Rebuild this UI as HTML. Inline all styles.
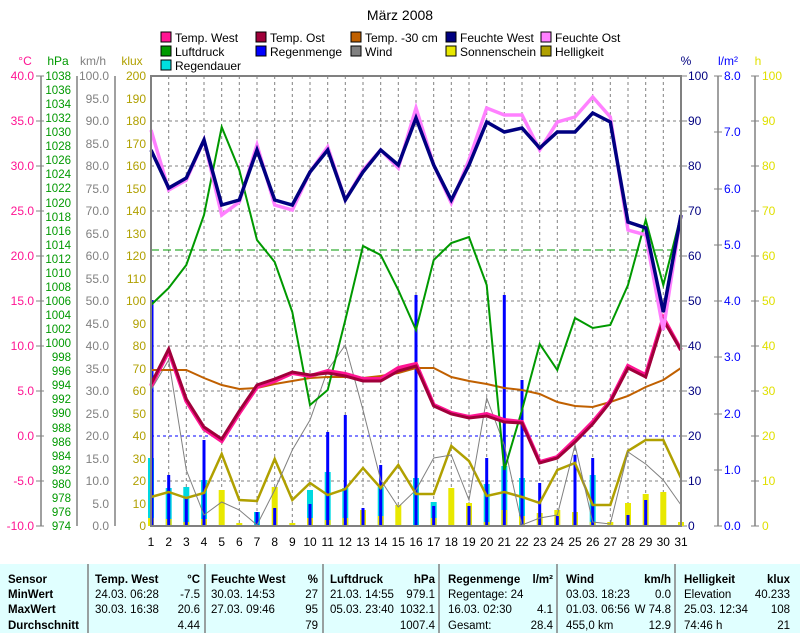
<!DOCTYPE html><html><head><meta charset="utf-8"><style>
body{margin:0;background:#fff;width:800px;height:633px;overflow:hidden}
svg{font-family:"Liberation Sans",sans-serif;font-size:12px}
.b{font-weight:bold}
</style></head><body>
<svg width="800" height="633" xmlns="http://www.w3.org/2000/svg">
<text x="400" y="20" font-size="14" text-anchor="middle">März 2008</text>
<!-- legend -->
<g font-size="12">
<rect x="161" y="32" width="10" height="10" fill="#ff1493" stroke="#000"/><text x="175" y="42">Temp. West</text>
<rect x="256" y="32" width="10" height="10" fill="#a0003a" stroke="#000"/><text x="270" y="42">Temp. Ost</text>
<rect x="351" y="32" width="10" height="10" fill="#c06000" stroke="#000"/><text x="365" y="42">Temp. -30 cm</text>
<rect x="446" y="32" width="10" height="10" fill="#000080" stroke="#000"/><text x="460" y="42">Feuchte West</text>
<rect x="541" y="32" width="10" height="10" fill="#ff80ff" stroke="#000"/><text x="555" y="42">Feuchte Ost</text>
<rect x="161" y="46" width="10" height="10" fill="#009900" stroke="#000"/><text x="175" y="56">Luftdruck</text>
<rect x="256" y="46" width="10" height="10" fill="#0000ff" stroke="#000"/><text x="270" y="56">Regenmenge</text>
<rect x="351" y="46" width="10" height="10" fill="#808080" stroke="#000"/><text x="365" y="56">Wind</text>
<rect x="446" y="46" width="10" height="10" fill="#e8e800" stroke="#000"/><text x="460" y="56">Sonnenschein</text>
<rect x="541" y="46" width="10" height="10" fill="#b0a000" stroke="#000"/><text x="555" y="56">Helligkeit</text>
<rect x="161" y="60" width="10" height="10" fill="#00e0e0" stroke="#000"/><text x="175" y="70">Regendauer</text>
</g>
<!-- unit labels -->
<text x="25" y="65" fill="#ff1493" text-anchor="middle">°C</text>
<text x="58" y="65" fill="#009900" text-anchor="middle">hPa</text>
<text x="93" y="65" fill="#808080" text-anchor="middle">km/h</text>
<text x="132" y="65" fill="#b0a000" text-anchor="middle">klux</text>
<text x="686" y="65" fill="#000080" text-anchor="middle">%</text>
<text x="728" y="65" fill="#0000ff" text-anchor="middle">l/m²</text>
<text x="758" y="65" fill="#e0e000" text-anchor="middle">h</text>
<!-- grid -->
<g stroke="#808080" stroke-dasharray="3,3" stroke-width="1">
<path d="M151 121H681M151 166H681M151 211H681M151 256H681M151 301H681M151 346H681M151 391H681M151 436H681M151 481H681"/>
<path d="M168.7 76V526M186.3 76V526M204 76V526M221.7 76V526M239.3 76V526M257 76V526M274.7 76V526M292.3 76V526M310 76V526M327.7 76V526M345.3 76V526M363 76V526M380.7 76V526M398.3 76V526M416 76V526M433.7 76V526M451.3 76V526M469 76V526M486.7 76V526M504.3 76V526M522 76V526M539.7 76V526M557.3 76V526M575 76V526M592.7 76V526M610.3 76V526M628 76V526M645.7 76V526M663.3 76V526"/>
</g>
<path d="M151 250H681" stroke="#009900" stroke-dasharray="8,4"/>
<path d="M151 436H681" stroke="#0000ff" stroke-dasharray="3,3"/>
<!-- axes lines -->
<g stroke="#808080" stroke-width="1.5" fill="none">
<path d="M41 76V526M77 76V526M115 76V526M718 76V526M755 76V526"/>
</g>
<!-- °C ticks -->
<g fill="#ff1493" text-anchor="end">
<text x="34" y="80">40.0</text><text x="34" y="125">35.0</text><text x="34" y="170">30.0</text><text x="34" y="215">25.0</text><text x="34" y="260">20.0</text><text x="34" y="305">15.0</text><text x="34" y="350">10.0</text><text x="34" y="395">5.0</text><text x="34" y="440">0.0</text><text x="34" y="485">-5.0</text><text x="34" y="530">-10.0</text>
</g>
<path d="M36 76H44M36 121H44M36 166H44M36 211H44M36 256H44M36 301H44M36 346H44M36 391H44M36 436H44M36 481H44M36 526H44" stroke="#808080"/>
<g fill="#009900" text-anchor="end" font-size="11.5">
<text x="71" y="80">1038</text><text x="71" y="94">1036</text><text x="71" y="108">1034</text><text x="71" y="122">1032</text><text x="71" y="136">1030</text><text x="71" y="150">1028</text><text x="71" y="164">1026</text><text x="71" y="178">1024</text><text x="71" y="192">1022</text><text x="71" y="207">1020</text><text x="71" y="221">1018</text><text x="71" y="235">1016</text><text x="71" y="249">1014</text><text x="71" y="263">1012</text><text x="71" y="277">1010</text><text x="71" y="291">1008</text><text x="71" y="305">1006</text><text x="71" y="319">1004</text><text x="71" y="333">1002</text><text x="71" y="347">1000</text><text x="71" y="361">998</text><text x="71" y="375">996</text><text x="71" y="389">994</text><text x="71" y="403">992</text><text x="71" y="417">990</text><text x="71" y="432">988</text><text x="71" y="446">986</text><text x="71" y="460">984</text><text x="71" y="474">982</text><text x="71" y="488">980</text><text x="71" y="502">978</text><text x="71" y="516">976</text><text x="71" y="530">974</text>
</g>
<g fill="#808080" text-anchor="end">
<text x="109" y="80">100.0</text><text x="109" y="103">95.0</text><text x="109" y="125">90.0</text><text x="109" y="148">85.0</text><text x="109" y="170">80.0</text><text x="109" y="193">75.0</text><text x="109" y="215">70.0</text><text x="109" y="238">65.0</text><text x="109" y="260">60.0</text><text x="109" y="283">55.0</text><text x="109" y="305">50.0</text><text x="109" y="328">45.0</text><text x="109" y="350">40.0</text><text x="109" y="373">35.0</text><text x="109" y="395">30.0</text><text x="109" y="418">25.0</text><text x="109" y="440">20.0</text><text x="109" y="463">15.0</text><text x="109" y="485">10.0</text><text x="109" y="508">5.0</text><text x="109" y="530">0.0</text>
</g>
<g fill="#b0a000" text-anchor="end">
<text x="146" y="80">200</text><text x="146" y="103">190</text><text x="146" y="125">180</text><text x="146" y="148">170</text><text x="146" y="170">160</text><text x="146" y="193">150</text><text x="146" y="215">140</text><text x="146" y="238">130</text><text x="146" y="260">120</text><text x="146" y="283">110</text><text x="146" y="305">100</text><text x="146" y="328">90</text><text x="146" y="350">80</text><text x="146" y="373">70</text><text x="146" y="395">60</text><text x="146" y="418">50</text><text x="146" y="440">40</text><text x="146" y="463">30</text><text x="146" y="485">20</text><text x="146" y="508">10</text><text x="146" y="530">0</text>
</g>
<g fill="#000080">
<text x="688" y="80">100</text><text x="688" y="125">90</text><text x="688" y="170">80</text><text x="688" y="215">70</text><text x="688" y="260">60</text><text x="688" y="305">50</text><text x="688" y="350">40</text><text x="688" y="395">30</text><text x="688" y="440">20</text><text x="688" y="485">10</text><text x="688" y="530">0</text>
</g>
<path d="M681 76H687M681 121H687M681 166H687M681 211H687M681 256H687M681 301H687M681 346H687M681 391H687M681 436H687M681 481H687M681 526H687" stroke="#808080"/>
<g fill="#0000ff">
<text x="724" y="80">8.0</text><text x="724" y="136">7.0</text><text x="724" y="193">6.0</text><text x="724" y="249">5.0</text><text x="724" y="305">4.0</text><text x="724" y="361">3.0</text><text x="724" y="418">2.0</text><text x="724" y="474">1.0</text><text x="724" y="530">0.0</text>
</g>
<path d="M714 76H722M714 132H722M714 189H722M714 245H722M714 301H722M714 357H722M714 414H722M714 470H722M714 526H722M751 76H759M751 121H759M751 166H759M751 211H759M751 256H759M751 301H759M751 346H759M751 391H759M751 436H759M751 481H759M751 526H759" stroke="#808080"/>
<g fill="#e0e000">
<text x="762" y="80">100</text><text x="762" y="125">90</text><text x="762" y="170">80</text><text x="762" y="215">70</text><text x="762" y="260">60</text><text x="762" y="305">50</text><text x="762" y="350">40</text><text x="762" y="395">30</text><text x="762" y="440">20</text><text x="762" y="485">10</text><text x="762" y="530">0</text>
</g>
<!-- x labels -->
<g text-anchor="middle">
<text x="151" y="546">1</text><text x="168.7" y="546">2</text><text x="186.3" y="546">3</text><text x="204" y="546">4</text><text x="221.7" y="546">5</text><text x="239.3" y="546">6</text><text x="257" y="546">7</text><text x="274.7" y="546">8</text><text x="292.3" y="546">9</text><text x="310" y="546">10</text><text x="327.7" y="546">11</text><text x="345.3" y="546">12</text><text x="363" y="546">13</text><text x="380.7" y="546">14</text><text x="398.3" y="546">15</text><text x="416" y="546">16</text><text x="433.7" y="546">17</text><text x="451.3" y="546">18</text><text x="469" y="546">19</text><text x="486.7" y="546">20</text><text x="504.3" y="546">21</text><text x="522" y="546">22</text><text x="539.7" y="546">23</text><text x="557.3" y="546">24</text><text x="575" y="546">25</text><text x="592.7" y="546">26</text><text x="610.3" y="546">27</text><text x="628" y="546">28</text><text x="645.7" y="546">29</text><text x="663.3" y="546">30</text><text x="681" y="546">31</text>
</g>
<!-- cyan bars -->
<g stroke="#00d8e0" stroke-width="6">
<path d="M151 526V458M168.7 526V488M186.3 526V487M204 526V480M257 526V512M310 526V490M327.7 526V472M345.3 526V488M380.7 526V487M416 526V478M433.7 526V502M486.7 526V484M504.3 526V466M522 526V478M592.7 526V475"/>
</g>
<!-- yellow bars -->
<g stroke="#e8e800" stroke-width="6">
<path d="M151 526V518M168.7 526V519M186.3 526V522M204 526V519M221.7 526V490M239.3 526V523M274.7 526V487M292.3 526V523M310 526V518M327.7 526V520M345.3 526V518M363 526V510M380.7 526V516M398.3 526V505M433.7 526V518M451.3 526V488M469 526V503M486.7 526V522M504.3 526V510M522 526V516M539.7 526V513M557.3 526V510M575 526V512M592.7 526V522M610.3 526V522M628 526V503M645.7 526V494M663.3 526V492M681 526V522"/>
</g>
<!-- blue rain bars -->
<g stroke="#0000ff" stroke-width="3">
<path d="M152 526V300M168.7 526V475M186.3 526V498M204 526V440M257 526V512M274.7 526V508M310 526V504M327.7 526V432M345.3 526V415M363 526V508M380.7 526V465M416 526V295M433.7 526V506M469 526V506M486.7 526V458M504.3 526V295M522 526V380M539.7 526V483M557.3 526V516M575 526V455M592.7 526V458M628 526V515M645.7 526V500"/>
</g>
<!-- Helligkeit -->
<polyline fill="none" stroke="#b0a000" stroke-width="2.5" points="151,497 168.7,492 186.3,498 204,493 221.7,454 239.3,500 257,501 274.7,459 292.3,500 310,483 327.7,495 345.3,489 363,468 380.7,488 398.3,465 416,494 433.7,494 451.3,446 469,461 486.7,496 504.3,492 522,497 539.7,503 557.3,470 575,463 592.7,505 610.3,505 628,451 645.7,440 663.3,440 681,478"/>
<!-- Wind -->
<polyline fill="none" stroke="#808080" stroke-width="1" points="151,390 168.7,360 186.3,470 204,515 221.7,502 239.3,510 257,525 274.7,490 292.3,450 310,420 327.7,370 345.3,345 363,410 380.7,480 398.3,507 416,490 433.7,458 451.3,455 469,500 486.7,398 504.3,445 522,525 539.7,518 557.3,515 575,445 592.7,522 610.3,524 628,452 645.7,464 663.3,480 681,505"/>
<!-- Temp -30 -->
<polyline fill="none" stroke="#c06000" stroke-width="2" points="151,370 168.7,370 186.3,370 204,378 221.7,385 239.3,389 257,388 274.7,384 292.3,381 310,378 327.7,377 345.3,377 363,378 380.7,376 398.3,373 416,368 433.7,368 451.3,377 469,381 486.7,384 504.3,388 522,390 539.7,394 557.3,402 575,406 592.7,407 610.3,402 628,396 645.7,387 663.3,380 681,368"/>
<!-- Luftdruck -->
<polyline fill="none" stroke="#009900" stroke-width="2" points="151,305 168.7,288 186.3,265 204,215 221.7,127 239.3,170 257,240 274.7,262 292.3,312 310,405 327.7,390 345.3,320 363,246 380.7,255 398.3,290 416,330 433.7,260 451.3,243 469,237 486.7,285 504.3,470 522,410 539.7,344 557.3,370 575,318 592.7,328 610.3,325 628,285 645.7,220 663.3,285 681,215"/>
<!-- Temps -->
<polyline fill="none" stroke="#ff1493" stroke-width="4" points="151,386 168.7,351 186.3,401 204,429 221.7,441 239.3,413 257,387 274.7,381 292.3,373 310,376 327.7,371 345.3,374 363,379 380.7,379 398.3,368 416,364 433.7,405 451.3,413 469,417 486.7,414 504.3,420 522,422 539.7,462 557.3,457 575,440 592.7,422 610.3,401 628,366 645.7,375 663.3,318 681,350"/>
<polyline fill="none" stroke="#a0003a" stroke-width="3" points="151,384 168.7,349 186.3,399 204,427 221.7,439 239.3,411 257,385 274.7,379 292.3,372 310,375 327.7,373 345.3,376 363,381 380.7,381 398.3,371 416,366 433.7,406 451.3,414 469,418 486.7,416 504.3,422 522,423 539.7,463 557.3,458 575,442 592.7,424 610.3,402 628,368 645.7,377 663.3,320 681,350"/>
<!-- Feuchte -->
<polyline fill="none" stroke="#ff80ff" stroke-width="3.5" points="151,130 168.7,190 186.3,180 204,140 221.7,215 239.3,202 257,145 274.7,205 292.3,210 310,172 327.7,147 345.3,200 363,170 380.7,150 398.3,168 416,108 433.7,165 451.3,203 469,160 486.7,108 504.3,115 522,115 539.7,150 557.3,122 575,117 592.7,97 610.3,117 628,230 645.7,235 663.3,330 681,215"/>
<polyline fill="none" stroke="#000080" stroke-width="3.5" points="151,150 168.7,188 186.3,178 204,140 221.7,205 239.3,200 257,150 274.7,200 292.3,205 310,172 327.7,150 345.3,200 363,172 380.7,150 398.3,165 416,118 433.7,165 451.3,200 469,165 486.7,122 504.3,132 522,128 539.7,148 557.3,132 575,132 592.7,113 610.3,122 628,222 645.7,228 663.3,312 681,215"/>
<!-- frame -->
<rect x="151" y="76" width="530" height="450" fill="none" stroke="#808080" stroke-width="2"/>
<!-- table -->
<rect x="0" y="564" width="800" height="69" fill="#e0ffff"/>
<path d="M88 564V633M205 564V633M323 564V633M439 564V633M557 564V633M675 564V633" stroke="#808080" stroke-width="1.5"/>
<g font-size="11.5">
<g class="b"><text x="8" y="583">Sensor</text><text x="8" y="598">MinWert</text><text x="8" y="613">MaxWert</text><text x="8" y="629">Durchschnitt</text>
<text x="95" y="583">Temp. West</text><text x="200" y="583" text-anchor="end">°C</text>
<text x="211" y="583">Feuchte West</text><text x="318" y="583" text-anchor="end">%</text>
<text x="330" y="583">Luftdruck</text><text x="435" y="583" text-anchor="end">hPa</text>
<text x="448" y="583">Regenmenge</text><text x="553" y="583" text-anchor="end">l/m²</text>
<text x="566" y="583">Wind</text><text x="671" y="583" text-anchor="end">km/h</text>
<text x="684" y="583">Helligkeit</text><text x="790" y="583" text-anchor="end">klux</text></g>
<text x="95" y="598">24.03.  06:28</text><text x="200" y="598" text-anchor="end">-7.5</text>
<text x="95" y="613">30.03.  16:38</text><text x="200" y="613" text-anchor="end">20.6</text>
<text x="200" y="629" text-anchor="end">4.44</text>
<text x="211" y="598">30.03.  14:53</text><text x="318" y="598" text-anchor="end">27</text>
<text x="211" y="613">27.03.  09:46</text><text x="318" y="613" text-anchor="end">95</text>
<text x="318" y="629" text-anchor="end">79</text>
<text x="330" y="598">21.03.  14:55</text><text x="435" y="598" text-anchor="end">979.1</text>
<text x="330" y="613">05.03.  23:40</text><text x="435" y="613" text-anchor="end">1032.1</text>
<text x="435" y="629" text-anchor="end">1007.4</text>
<text x="448" y="598">Regentage: 24</text>
<text x="448" y="613">16.03.  02:30</text><text x="553" y="613" text-anchor="end">4.1</text>
<text x="448" y="629">Gesamt:</text><text x="553" y="629" text-anchor="end">28.4</text>
<text x="566" y="598">03.03.  18:23</text><text x="671" y="598" text-anchor="end">0.0</text>
<text x="566" y="613">01.03.  06:56</text><text x="671" y="613" text-anchor="end">W 74.8</text>
<text x="566" y="629">455,0 km</text><text x="671" y="629" text-anchor="end">12.9</text>
<text x="684" y="598">Elevation</text><text x="790" y="598" text-anchor="end">40.233</text>
<text x="684" y="613">25.03.  12:34</text><text x="790" y="613" text-anchor="end">108</text>
<text x="684" y="629">74:46 h</text><text x="790" y="629" text-anchor="end">21</text>
</g>
</svg>
</body></html>
